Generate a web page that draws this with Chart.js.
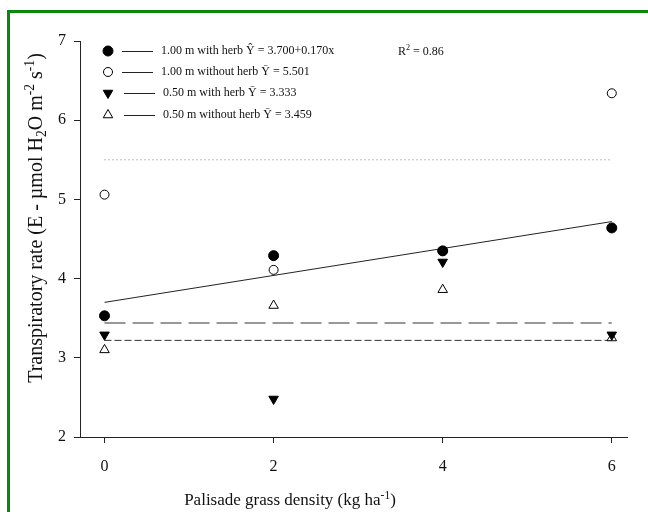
<!DOCTYPE html>
<html>
<head>
<meta charset="utf-8">
<script src="https://cdn.jsdelivr.net/npm/chart.js@4"></script>
<style>
  html, body { margin: 0; padding: 0; background: #fff; }
  #wrap { position: relative; width: 648px; height: 512px; overflow: hidden; }
  #frame { position: absolute; left: 7px; top: 10px; width: 700px; height: 600px;
           border-left: 3px solid #0b870b; border-top: 3px solid #0b870b; pointer-events: none; }
  canvas { position: absolute; left: 0; top: 0; }
</style>
</head>
<body>
<div id="wrap">
  <canvas id="chart" width="648" height="512"></canvas>
  <div id="frame"></div>
</div>
<script>
// density levels (kg ha-1)
const density = [0, 2, 4, 6];
const xTicks = [0, 2, 4, 6];
const yTicks = [2, 3, 4, 5, 6, 7];

// transpiratory rate
const withHerb100 = [3.53, 4.29, 4.35, 4.64];
const withoutHerb100 = [5.06, 4.11, 4.35, 6.34];
const withHerb50 = [3.29, 2.48, 4.21, 3.29];
const withoutHerb50 = [3.10, 3.66, 3.86, 3.25];

// fitted lines (start / end values at x = 0 and x = 6)
const lineEnds = [0, 6];
const fitWithHerb100 = [3.70, 4.72];
const meanWithoutHerb100 = [5.50, 5.50];
const meanWithoutHerb50 = [3.44, 3.44];
const meanWithHerb50 = [3.22, 3.22];

const legendLabels = [
  '1.00 m with herb \u0176 = 3.700+0.170x',
  '1.00 m without herb \u0232 = 5.501',
  '0.50 m with herb \u0232 = 3.333',
  '0.50 m without herb \u0232 = 3.459'
];

const serif = '"Liberation Serif", "Times New Roman", serif';

function pts(xs, ys) {
  return xs.map((x, i) => ({ x: x, y: ys[i] }));
}

// marker styles, shared by plot and legend
const markers = [
  { pointStyle: 'circle', radius: 5, rotation: 0, bg: '#000', border: '#000' },
  { pointStyle: 'circle', radius: 4.5, rotation: 0, bg: '#fff', border: '#000' },
  { pointStyle: 'triangle', radius: 5.5, rotation: 180, bg: '#000', border: '#000' },
  { pointStyle: 'triangle', radius: 5.5, rotation: 0, bg: '#fff', border: '#000' }
];

function pointSet(label, ys, m) {
  return {
    label: label,
    data: pts(density, ys),
    showLine: false,
    pointStyle: m.pointStyle,
    pointRadius: m.radius,
    pointRotation: m.rotation,
    pointBackgroundColor: m.bg,
    pointBorderColor: m.border,
    pointBorderWidth: 1
  };
}

function lineSet(ys, color, width, dash) {
  return {
    data: pts(lineEnds, ys),
    showLine: true,
    borderColor: color,
    borderWidth: width,
    borderDash: dash,
    pointRadius: 0,
    fill: false
  };
}

// draw text made of normal / sup / sub pieces
function richWidth(ctx, parts, size) {
  let w = 0;
  parts.forEach(p => {
    ctx.font = (p[1] ? size * 0.68 : size) + 'px ' + serif;
    w += ctx.measureText(p[0]).width;
  });
  return w;
}
function drawRich(ctx, parts, x, y, size) {
  parts.forEach(p => {
    const small = p[1];
    ctx.font = (small ? size * 0.68 : size) + 'px ' + serif;
    let dy = 0;
    if (small === 'sup') dy = -size * 0.38;
    if (small === 'sub') dy = size * 0.2;
    ctx.fillText(p[0], x, y + dy);
    x += ctx.measureText(p[0]).width;
  });
}

const annotations = {
  id: 'annotations',
  afterDraw(chart) {
    const ctx = chart.ctx;
    ctx.save();
    ctx.fillStyle = '#111';
    ctx.textBaseline = 'alphabetic';
    ctx.textAlign = 'left';

    // x axis title
    const xt = [['Palisade grass density (kg ha'], ['-1', 'sup'], [')']];
    const xw = richWidth(ctx, xt, 17);
    drawRich(ctx, xt, 290 - xw / 2, 505, 17);

    // y axis title
    const yt = [['Transpiratory rate (E - \u00b5mol H'], ['2', 'sub'], ['O m'], ['-2', 'sup'],
                [' s'], ['-1', 'sup'], [')']];
    const yw = richWidth(ctx, yt, 20);
    ctx.save();
    ctx.translate(42, 218);
    ctx.rotate(-Math.PI / 2);
    drawRich(ctx, yt, -yw / 2, 0, 20);
    ctx.restore();

    // legend
    const rows = [51, 72, 93, 115];
    ctx.font = '12px ' + serif;
    ctx.textBaseline = 'middle';
    rows.forEach((ry, i) => {
      const m = markers[i];
      ctx.fillStyle = m.bg;
      ctx.strokeStyle = m.border;
      ctx.lineWidth = 1;
      Chart.helpers.drawPoint(ctx, { pointStyle: m.pointStyle, radius: m.radius, rotation: m.rotation, borderWidth: 1 }, 108, ry);
      const off = i > 1 ? 2 : 0;
      ctx.strokeStyle = '#222';
      ctx.beginPath();
      ctx.moveTo(122 + off, ry + 0.5);
      ctx.lineTo(153 + off, ry + 0.5);
      ctx.stroke();
      ctx.fillStyle = '#111';
      ctx.font = '12px ' + serif;
      ctx.fillText(legendLabels[i], 161 + off, ry);
    });
    ctx.textBaseline = 'alphabetic';
    drawRich(ctx, [['R'], ['2', 'sup'], [' = 0.86']], 398, 55, 12);
    ctx.restore();
  }
};

new Chart(document.getElementById('chart'), {
  type: 'scatter',
  data: {
    datasets: [
      pointSet('1.00 m with herb', withHerb100, markers[0]),
      pointSet('1.00 m without herb', withoutHerb100, markers[1]),
      pointSet('0.50 m with herb', withHerb50, markers[2]),
      pointSet('0.50 m without herb', withoutHerb50, markers[3]),
      lineSet(fitWithHerb100, '#222', 1, []),
      lineSet(meanWithoutHerb100, '#777', 1, [1, 3]),
      lineSet(meanWithoutHerb50, '#777', 1.5, [21, 7]),
      lineSet(meanWithHerb50, '#333', 1, [7, 3])
    ]
  },
  options: {
    responsive: false,
    animation: false,
    layout: { padding: { top: 41, right: 21, left: 0, bottom: 0 } },
    plugins: {
      legend: { display: false },
      tooltip: { enabled: false }
    },
    scales: {
      x: {
        type: 'linear',
        min: -0.29,
        max: 6.18,
        afterBuildTicks: s => { s.ticks = xTicks.map(v => ({ value: v })); },
        afterFit: s => { s.height = 75; },
        grid: { drawOnChartArea: false, drawTicks: true, tickLength: 6, color: '#222' },
        border: { display: true, color: '#222', width: 1 },
        ticks: { padding: 14, color: '#111', font: { family: serif, size: 16 } }
      },
      y: {
        type: 'linear',
        min: 2,
        max: 7,
        afterBuildTicks: s => { s.ticks = yTicks.map(v => ({ value: v })); },
        afterFit: s => { s.width = 80; },
        grid: { drawOnChartArea: false, drawTicks: true, tickLength: 6, color: '#222' },
        border: { display: true, color: '#222', width: 1 },
        ticks: { padding: 8, color: '#111', font: { family: serif, size: 16 } }
      }
    }
  },
  plugins: [annotations]
});
</script>
</body>
</html>
